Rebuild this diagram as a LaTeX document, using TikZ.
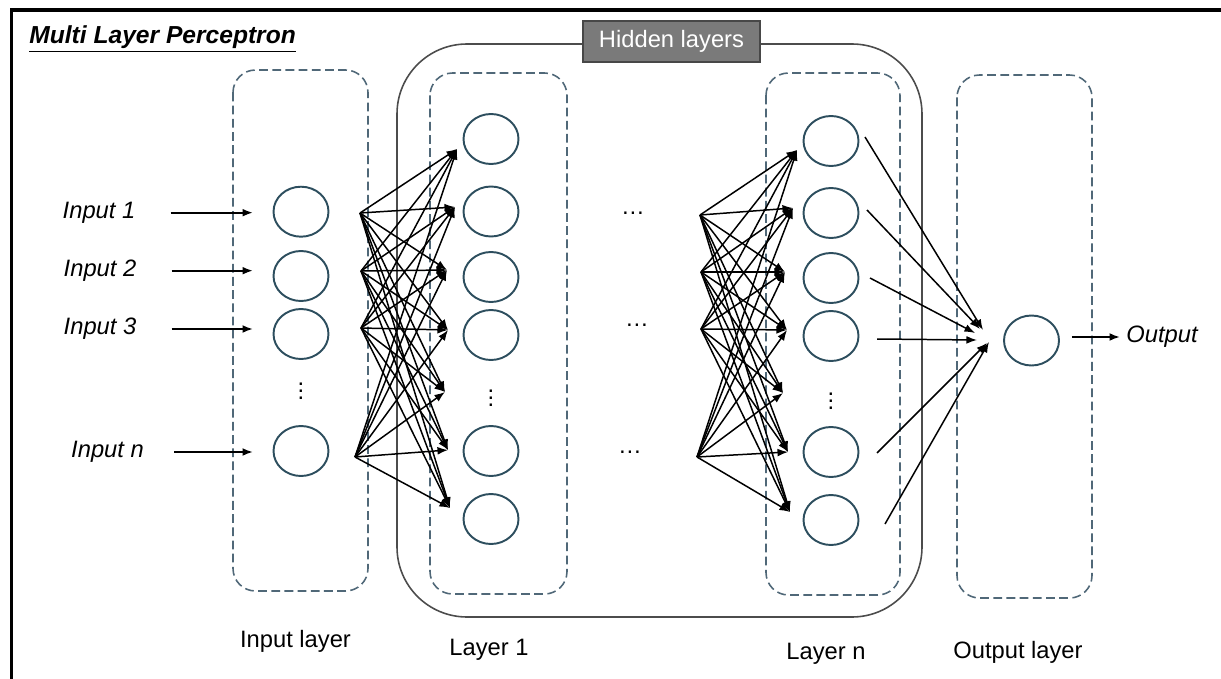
\documentclass[tikz,border=0pt]{standalone}
\usepackage{fontspec}
\setmainfont{Liberation Sans}
\usepackage{tikz}
\usetikzlibrary{arrows,arrows.meta,shapes,positioning,calc}
\definecolor{dashline}{HTML}{506878}
\definecolor{unitline}{HTML}{2D4E5E}
\definecolor{tagfill}{HTML}{7A7A7A}
\definecolor{tagline}{HTML}{474747}

\tikzset{
	unit/.style={shape=ellipse,draw=unitline,line width=1.1pt,minimum width=1.1cm,minimum height=1cm,inner sep=0pt},
	layerbox/.style={draw=dashline,line width=0.9pt,dash pattern=on 5pt off 2.5pt,rounded corners=0.45cm},
	lbl/.style={inner sep=0pt,font=\fontsize{13.5}{16}\selectfont},
	wire/.style={-{Latex[length=6pt,width=4.5pt]},line width=0.85pt,black},
}

\begin{document}
\begin{tikzpicture}[x=0.02cm,y=-0.02cm]
	\useasboundingbox (0,0) rectangle (1221,679);
	% frame and title
	\draw[line width=1.8pt] (11.5,679) -- (11.5,10) -- (1221,10);
	\node[lbl,anchor=base west,font=\fontsize{14}{16}\selectfont\bfseries\itshape](title) at (29,43.3) {\underline{Multi Layer Perceptron}};
	% layer boxes
	\draw[layerbox] (233,70) rectangle (368,591);
	\draw[draw=black!70,line width=0.9pt,rounded corners=1.4cm] (397,44) rectangle (922,617);
	\draw[layerbox] (430,73) rectangle (567,594);
	\draw[layerbox] (766,73) rectangle (900,595);
	\draw[layerbox] (957,75) rectangle (1092,598);
	\node[lbl,fill=tagfill,draw=tagline,line width=0.8pt,text=white,minimum width=3.54cm,minimum height=0.82cm](hidden) at (671.5,41.5) {Hidden layers};
	% input layer
	\node[unit](i1) at (301,211.7) {};
	\node[unit](i2) at (301,276) {};
	\node[unit](i3) at (301,334) {};
	\node[unit](i4) at (301,451) {};
	\node[lbl](idots) at (301,386) {$\vdots$};
	% hidden layer 1
	\node[unit](h1) at (491,139) {};
	\node[unit](h2) at (491,211.5) {};
	\node[unit](h3) at (491,277) {};
	\node[unit](h4) at (491,335) {};
	\node[unit](h5) at (491,451) {};
	\node[unit](h6) at (491,519) {};
	\node[lbl](hdots) at (491,393) {$\vdots$};
	% hidden layer n
	\node[unit](n1) at (831,141) {};
	\node[unit](n2) at (831,213) {};
	\node[unit](n3) at (831,278) {};
	\node[unit](n4) at (831,336) {};
	\node[unit](n5) at (831,452) {};
	\node[unit](n6) at (831,520) {};
	\node[lbl](ndots) at (831,396) {$\vdots$};
	% output layer
	\node[unit](o) at (1031.5,340.5) {};
	\node[lbl](m1) at (633,213) {\textellipsis};
	\node[lbl](m2) at (637,325) {\textellipsis};
	\node[lbl](m3) at (630,452) {\textellipsis};
	% labels
	\node[lbl,font=\fontsize{13.5}{16}\selectfont\itshape](in1) at (99,212.7) {Input 1};
	\node[lbl,font=\fontsize{13.5}{16}\selectfont\itshape](in2) at (100,270.7) {Input 2};
	\node[lbl,font=\fontsize{13.5}{16}\selectfont\itshape](in3) at (100,329) {Input 3};
	\node[lbl,font=\fontsize{13.5}{16}\selectfont\itshape](in4) at (107.5,452) {Input n};
	\node[lbl,font=\fontsize{13.5}{16}\selectfont\itshape](out) at (1162,337) {Output};
	\node[lbl,anchor=base](linput) at (295.5,647) {Input layer};
	\node[lbl,anchor=base](lfirst) at (489,655) {Layer 1};
	\node[lbl,anchor=base](llast) at (826,659) {Layer n};
	\node[lbl,anchor=base](loutput) at (1018,658) {Output layer};
	% fan end points
	\coordinate (a1) at (360,213);
	\coordinate (a2) at (361,271);
	\coordinate (a3) at (361,328);
	\coordinate (a4) at (355,457);
	\coordinate (b1) at (457,149);
	\coordinate (b2) at (455,207);
	\coordinate (b3) at (447,270);
	\coordinate (b4) at (448,330);
	\coordinate (b5) at (445,392);
	\coordinate (b6) at (448,450);
	\coordinate (b7) at (450,508);
	\coordinate (c1) at (700,215);
	\coordinate (c2) at (701,272);
	\coordinate (c3) at (701,329);
	\coordinate (c4) at (697,457);
	\coordinate (d1) at (797,150);
	\coordinate (d2) at (793,208);
	\coordinate (d3) at (785,272);
	\coordinate (d4) at (787,330);
	\coordinate (d5) at (783,393);
	\coordinate (d6) at (788,452);
	\coordinate (d7) at (790,512);
	\coordinate (e1) at (865,137);
	\coordinate (e2) at (867,210);
	\coordinate (e3) at (870,278);
	\coordinate (e4) at (877,339);
	\coordinate (e5) at (877,453);
	\coordinate (e6) at (885,524);
	\coordinate (f1) at (983,330);
	\coordinate (f2) at (980,329);
	\coordinate (f3) at (975,333);
	\coordinate (f4) at (977,340);
	\coordinate (f5) at (987,343);
	\coordinate (f6) at (989,342);
	% input arrows
	\draw[wire,line width=1.1pt,shorten <=0.7cm,shorten >=0.39cm] (in1.east) -- (in1.east -| i1.west);
	\draw[wire,line width=1.1pt,shorten <=0.7cm,shorten >=0.39cm] (in2.east) -- (in2.east -| i2.west);
	\draw[wire,line width=1.1pt,shorten <=0.7cm,shorten >=0.39cm] (in3.east) -- (in3.east -| i3.west);
	\draw[wire,line width=1.1pt,shorten <=0.6cm,shorten >=0.39cm] (in4.east) -- (in4.east -| i4.west);
	% input layer to layer 1
	\path[wire](a1) edge (b1) edge (b2) edge (b3) edge (b4) edge (b5) edge (b6) edge (b7);
	\path[wire](a2) edge (b1) edge (b2) edge (b3) edge (b4) edge (b5) edge (b6) edge (b7);
	\path[wire](a3) edge (b1) edge (b2) edge (b3) edge (b4) edge (b5) edge (b6) edge (b7);
	\path[wire](a4) edge (b1) edge (b2) edge (b3) edge (b4) edge (b5) edge (b6) edge (b7);
	% into layer n
	\path[wire](c1) edge (d1) edge (d2) edge (d3) edge (d4) edge (d5) edge (d6) edge (d7);
	\path[wire](c2) edge (d1) edge (d2) edge (d3) edge (d4) edge (d5) edge (d6) edge (d7);
	\path[wire](c3) edge (d1) edge (d2) edge (d3) edge (d4) edge (d5) edge (d6) edge (d7);
	\path[wire](c4) edge (d1) edge (d2) edge (d3) edge (d4) edge (d5) edge (d6) edge (d7);
	% layer n to output
	\path[wire](e1) edge (f1);
	\path[wire](e2) edge (f2);
	\path[wire](e3) edge (f3);
	\path[wire](e4) edge (f4);
	\path[wire](e5) edge (f5);
	\path[wire](e6) edge (f6);
	\draw[wire,line width=1.1pt,shorten <=0.24cm,shorten >=0.12cm] (out.west -| o.east) -- (out.west);
\end{tikzpicture}
\end{document}
